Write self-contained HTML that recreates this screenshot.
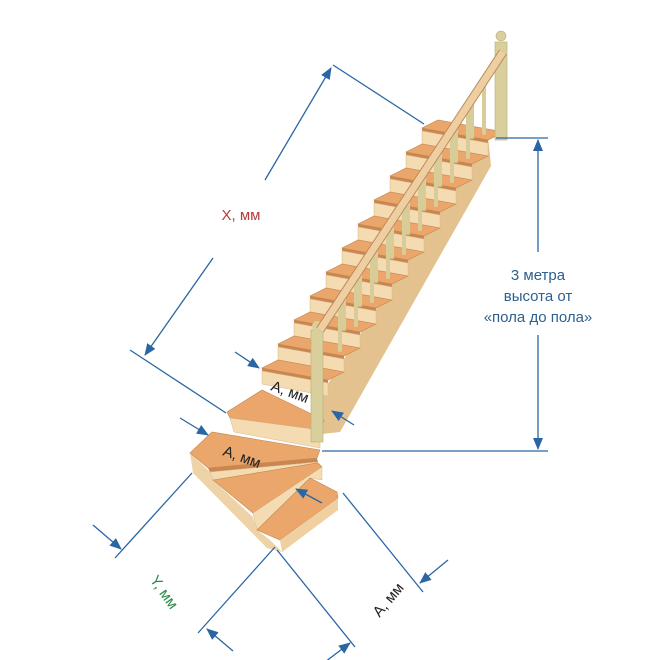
<!DOCTYPE html>
<html><head><meta charset="utf-8"><style>
html,body{margin:0;padding:0;background:#fff}
svg{display:block}
text{font-family:"Liberation Sans",sans-serif}
</style></head><body>
<svg width="660" height="660" viewBox="0 0 660 660" xmlns="http://www.w3.org/2000/svg">
<defs>
<g id="s">
<polygon points="0,0 66,12 82,4 16,-8" fill="#eba66b" stroke="#c4864f" stroke-width="0.6"/>
<polygon points="0,0 66,12 66,15 0,3" fill="#c98650"/>
<polygon points="0,3 66,15 66,28 0,16" fill="#f5dbb2" stroke="#d9b98a" stroke-width="0.5"/>
</g>
<marker id="ar" markerWidth="12" markerHeight="10" refX="11" refY="5" orient="auto" markerUnits="userSpaceOnUse">
<path d="M0,0 L12,5 L0,10 Z" fill="#2a66a3"/>
</marker>
</defs>

<!-- stringer side -->
<polygon points="488,136 491,166 340,432 322,434 320,396" fill="#e4c290"/>

<use href="#s" x="422" y="128"/>
<use href="#s" x="406" y="152"/>
<use href="#s" x="390" y="176"/>
<use href="#s" x="374" y="200"/>
<use href="#s" x="358" y="224"/>
<use href="#s" x="342" y="248"/>
<use href="#s" x="326" y="272"/>
<use href="#s" x="310" y="296"/>
<use href="#s" x="294" y="320"/>
<use href="#s" x="278" y="344"/>
<use href="#s" x="262" y="368"/>

<!-- winders -->
<polygon points="227,412 262,390 324,420 320,430 230,418" fill="#eba66b" stroke="#c4864f" stroke-width="0.6"/>
<polygon points="230,418 320,430 320,448 234,432" fill="#f5dbb2" stroke="#d9b98a" stroke-width="0.5"/>
<!-- base left side -->
<polygon points="190,453 193,473 267,548 282,552 270,540 257,530 253,517 213,480 210,472" fill="#eed3a8"/>
<polygon points="190,453 212,432 320,450 317,458 208,468" fill="#eba66b" stroke="#c4864f" stroke-width="0.6"/>
<polygon points="208,468 317,458 318,462 210,472" fill="#c98650"/>
<polygon points="210,472 318,462 322,467 253,513 213,480" fill="#f5dbb2" stroke="#d9b98a" stroke-width="0.5"/>
<polygon points="213,480 317,463 322,467 253,513" fill="#eba66b" stroke="#c4864f" stroke-width="0.6"/>
<polygon points="253,513 322,467 322,480 310,478 257,530" fill="#f5dbb2" stroke="#d9b98a" stroke-width="0.5"/>
<polygon points="257,530 310,478 337,492 338,498 280,540" fill="#eba66b" stroke="#c4864f" stroke-width="0.6"/>
<polygon points="280,540 338,498 338,510 282,552" fill="#f0cfa0"/>

<!-- balusters -->
<g stroke="#d8cd98" stroke-width="4" stroke-linecap="round">
<line x1="472" y1="97" x2="472" y2="137"/><line x1="484" y1="79" x2="484" y2="133"/>
<line x1="456" y1="122" x2="456" y2="161"/><line x1="468" y1="103" x2="468" y2="157"/>
<line x1="440" y1="146" x2="440" y2="185"/><line x1="452" y1="128" x2="452" y2="181"/>
<line x1="424" y1="170" x2="424" y2="209"/><line x1="436" y1="152" x2="436" y2="205"/>
<line x1="408" y1="195" x2="408" y2="233"/><line x1="420" y1="177" x2="420" y2="229"/>
<line x1="392" y1="219" x2="392" y2="257"/><line x1="404" y1="201" x2="404" y2="253"/>
<line x1="376" y1="244" x2="376" y2="281"/><line x1="388" y1="226" x2="388" y2="277"/>
<line x1="360" y1="268" x2="360" y2="305"/><line x1="372" y1="250" x2="372" y2="301"/>
<line x1="344" y1="292" x2="344" y2="329"/><line x1="356" y1="274" x2="356" y2="325"/>
<line x1="340" y1="299" x2="340" y2="350"/>
</g>
<!-- newels -->
<rect x="495" y="42" width="12" height="98" fill="#d9cf9c" stroke="#b8ad78" stroke-width="0.6"/>
<circle cx="501" cy="36" r="5" fill="#d9cf9c" stroke="#b8ad78" stroke-width="0.6"/>
<rect x="311" y="330" width="12" height="112" fill="#d9cf9c" stroke="#b8ad78" stroke-width="0.6"/>
<circle cx="317" cy="326" r="5" fill="#d9cf9c"/>
<!-- handrail -->
<line x1="503" y1="52" x2="320" y2="330" stroke="#b88d5e" stroke-width="9"/>
<line x1="503" y1="52" x2="320" y2="330" stroke="#efcfa2" stroke-width="7"/>

<!-- dimension lines -->
<g stroke="#2a66a3" stroke-width="1.3" fill="none">
<line x1="333" y1="65" x2="424" y2="124"/>
<line x1="130" y1="350" x2="226" y2="413"/>
<line x1="265" y1="180" x2="331" y2="68" marker-end="url(#ar)"/>
<line x1="213" y1="258" x2="145" y2="355" marker-end="url(#ar)"/>
<line x1="496" y1="138" x2="548" y2="138"/>
<line x1="322" y1="451" x2="548" y2="451"/>
<line x1="538" y1="252" x2="538" y2="140" marker-end="url(#ar)"/>
<line x1="538" y1="335" x2="538" y2="449" marker-end="url(#ar)"/>
<line x1="235" y1="352" x2="259" y2="368" marker-end="url(#ar)"/>
<line x1="354" y1="425" x2="332" y2="411" marker-end="url(#ar)"/>
<line x1="180" y1="418" x2="208" y2="435" marker-end="url(#ar)"/>
<line x1="322" y1="503" x2="296" y2="489" marker-end="url(#ar)"/>
<line x1="192" y1="473" x2="115" y2="558"/>
<line x1="93" y1="525" x2="121" y2="549" marker-end="url(#ar)"/>
<line x1="275" y1="547" x2="198" y2="633"/>
<line x1="233" y1="651" x2="207" y2="629" marker-end="url(#ar)"/>
<line x1="277" y1="550" x2="355" y2="647"/>
<line x1="325" y1="662" x2="350" y2="643" marker-end="url(#ar)"/>
<line x1="343" y1="493" x2="423" y2="592"/>
<line x1="448" y1="560" x2="420" y2="583" marker-end="url(#ar)"/>
</g>

<!-- labels -->
<text x="241" y="220" font-size="15" fill="#b33b3b" text-anchor="middle">X, мм</text>
<text x="538" y="280" font-size="15" fill="#2d5f8f" text-anchor="middle">3 метра</text>
<text x="538" y="301" font-size="15" fill="#2d5f8f" text-anchor="middle">высота от</text>
<text x="538" y="322" font-size="15" fill="#2d5f8f" text-anchor="middle">«пола до пола»</text>
<text x="270" y="390" font-size="15" fill="#222" transform="rotate(20 270 390)">А, мм</text>
<text x="222" y="455" font-size="15" fill="#222" transform="rotate(20 222 455)">А, мм</text>
<text x="160" y="595" font-size="15" fill="#2a8a4a" text-anchor="middle" transform="rotate(55 160 595)">Y, мм</text>
<text x="392" y="603" font-size="15" fill="#222" text-anchor="middle" transform="rotate(-50 392 603)">А, мм</text>
</svg>
</body></html>
